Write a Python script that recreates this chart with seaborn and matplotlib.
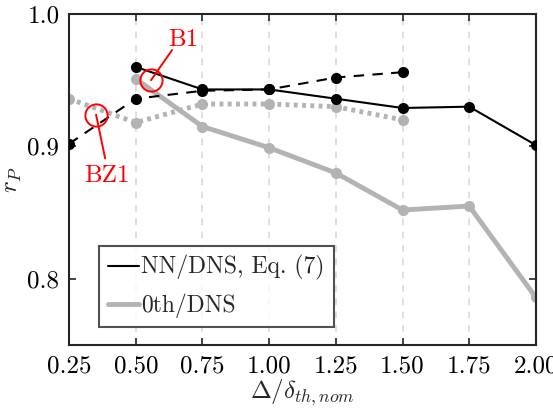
import numpy as np
import pandas as pd
import seaborn as sns
import matplotlib.pyplot as plt
from matplotlib.lines import Line2D

# data
x_nn = [0.5, 0.75, 1.0, 1.25, 1.5, 1.75, 2.0]
r_nn = [0.960, 0.943, 0.943, 0.936, 0.929, 0.930, 0.901]
x_nn_b = [0.25, 0.5, 0.75, 1.0, 1.25, 1.5]
r_nn_b = [0.902, 0.936, 0.942, 0.943, 0.952, 0.956]
x_0th = [0.5, 0.75, 1.0, 1.25, 1.5, 1.75, 2.0]
r_0th = [0.951, 0.915, 0.899, 0.880, 0.852, 0.855, 0.786]
x_0th_b = [0.25, 0.5, 0.75, 1.0, 1.25, 1.5]
r_0th_b = [0.936, 0.918, 0.932, 0.932, 0.930, 0.920]
xticks = [0.25, 0.5, 0.75, 1.0, 1.25, 1.5, 1.75, 2.0]
cases = ['B1', 'BZ1']
case_x = [0.557, 0.351]
case_y = [0.950, 0.924]

sns.set_style('ticks')
plt.rcParams['font.family'] = 'serif'
plt.rcParams['font.serif'] = ['cmr10', 'DejaVu Serif']
plt.rcParams['mathtext.fontset'] = 'cm'
plt.rcParams['axes.unicode_minus'] = False
plt.rcParams['axes.formatter.use_mathtext'] = True

GRAY = '#b3b3b3'
FS = 18
fig = plt.figure(figsize=(5.53, 4.09), dpi=100)
ax = fig.add_axes([0.125, 0.156, 0.844, 0.810])

for xv in xticks[1:-1]:
    ax.axvline(xv, color='#d9d9d9', ls=(0, (4, 4)), lw=1.2, zorder=0)

df = pd.DataFrame({'x': x_0th, 'r': r_0th})
sns.lineplot(data=df, x='x', y='r', ax=ax, color=GRAY, lw=3.5, marker='o',
             markersize=8, markeredgewidth=0, zorder=2)
df = pd.DataFrame({'x': x_0th_b, 'r': r_0th_b})
sns.lineplot(data=df, x='x', y='r', ax=ax, color=GRAY, lw=3.5, ls=(0, (0.8, 0.9)),
             marker='o', markersize=8, markeredgewidth=0, zorder=2)
df = pd.DataFrame({'x': x_nn_b, 'r': r_nn_b})
sns.lineplot(data=df, x='x', y='r', ax=ax, color='black', lw=1.5, ls=(0, (5, 4)),
             marker='o', markersize=8, markeredgewidth=0, zorder=3)
df = pd.DataFrame({'x': x_nn, 'r': r_nn})
sns.lineplot(data=df, x='x', y='r', ax=ax, color='black', lw=1.5, marker='o',
             markersize=8, markeredgewidth=0, zorder=3)

# case markers with label leaders
ax.plot(case_x, case_y, ls='none', marker='o', markersize=16, mfc='none',
        mec='red', mew=1.4, zorder=4)
ax.plot([case_x[0], 0.636], [case_y[0], 0.9727], color='red', lw=1.4, zorder=4)
ax.plot([case_x[1], 0.385], [case_y[1], 0.891], color='red', lw=1.4, zorder=4)
ax.text(0.677, 0.980, cases[0], color='red', fontsize=FS, ha='center', va='center')
ax.text(0.392, 0.878, cases[1], color='red', fontsize=FS, ha='center', va='center')

ax.set_xlim(0.25, 2.0)
ax.set_ylim(0.75, 1.0)
ax.set_xticks(xticks)
ax.set_xticklabels([f'{v:.2f}' for v in xticks])
ax.set_yticks([0.8, 0.9, 1.0])
ax.set_yticklabels(['0.8', '0.9', '1.0'])
ax.tick_params(direction='in', top=True, right=True, labelsize=FS, length=5,
               width=1.2, colors='#262626', labelcolor='black', pad=7)
for s in ax.spines.values():
    s.set_visible(True)
    s.set_linewidth(1.5)
    s.set_color('#262626')
ax.set_xlabel(r'$\Delta/\delta_{th,nom}$', fontsize=FS, labelpad=0)
ax.set_ylabel(r'$r_P$', fontsize=FS, labelpad=2)

handles = [Line2D([], [], color='black', lw=1.5),
           Line2D([], [], color=GRAY, lw=3.5)]
leg = ax.legend(handles, ['NN/DNS, Eq. (7)', '0th/DNS'], loc='lower left',
                bbox_to_anchor=(0.064, 0.054), fontsize=17, frameon=True,
                fancybox=False, edgecolor='#262626', handlelength=1.3,
                handletextpad=0.1, borderpad=0.4, labelspacing=0.55,
                borderaxespad=0)
leg.get_frame().set_linewidth(1.5)

fig.savefig('out.png', dpi=100)
